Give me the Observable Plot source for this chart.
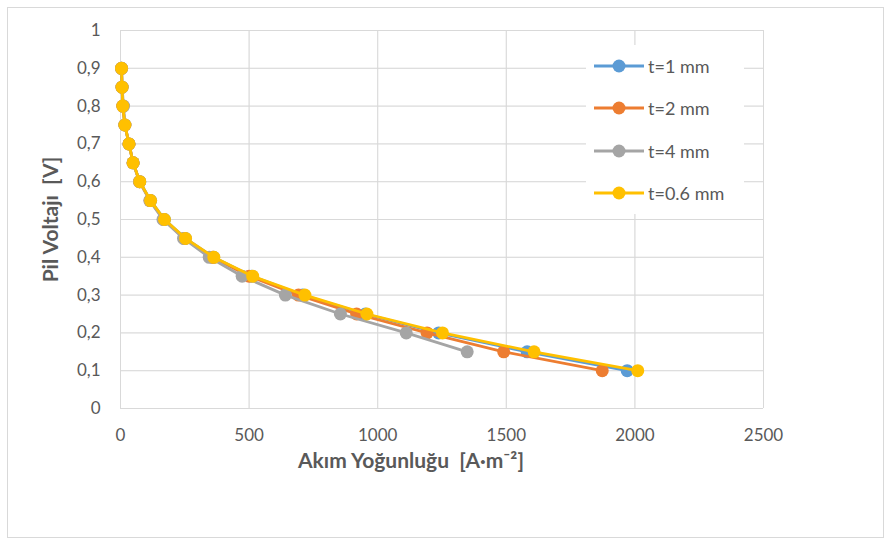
<!DOCTYPE html>
<html>
<head>
<meta charset="utf-8">
<script src="https://cdn.jsdelivr.net/npm/d3@7"></script>
<script src="https://cdn.jsdelivr.net/npm/@observablehq/plot@0.6"></script>
<style>
  html, body { margin: 0; padding: 0; background: #fff; }
  #wrap { position: relative; width: 890px; height: 540px; font-family: Lato, "Open Sans", sans-serif; }
  #border { position: absolute; left: 7px; top: 7px; width: 875px; height: 529px; border: 1px solid #d9d9d9; pointer-events: none; }
  #legend { position: absolute; left: 586px; top: 45px; width: 158px; background: #fff; padding: 0; }
  .li { display: flex; align-items: center; height: 42.3px; font-size: 18px; color: #595959; }
  .li svg { margin-left: 8px; margin-right: 4px; }
  svg [aria-label="x-axis label"] text, svg [aria-label="y-axis label"] text { font-weight: bold; font-size: 21px; white-space: pre; }
</style>
</head>
<body>
<div id="wrap"><div id="border"></div><div id="legend"></div></div>
<script>
const voltage = [0.9, 0.85, 0.8, 0.75, 0.7, 0.65, 0.6, 0.55, 0.5, 0.45, 0.4, 0.35, 0.3, 0.25, 0.2, 0.15, 0.1];
const seriesNames = ["t=1 mm", "t=2 mm", "t=4 mm", "t=0.6 mm"];
const seriesColors = ["#5B9BD5", "#ED7D31", "#A5A5A5", "#FFC000"];
const current_t1 = [4, 6, 9, 17, 33, 49, 75, 117, 171, 252, 362, 510, 708, 952, 1237, 1581, 1970];
const current_t2 = [4, 6, 9, 17, 33, 49, 74, 115, 168, 248, 358, 500, 692, 918, 1192, 1490, 1873];
const current_t4 = [4, 6, 12, 17, 33, 49, 74, 114, 165, 245, 345, 473, 641, 855, 1111, 1348];
const current_t06 = [4, 6, 9, 17, 33, 49, 75, 117, 171, 253, 363, 514, 717, 958, 1252, 1608, 2011];
const xTicks = [0, 500, 1000, 1500, 2000, 2500];
const yTicks = [0, 0.1, 0.2, 0.3, 0.4, 0.5, 0.6, 0.7, 0.8, 0.9, 1];
const xTitle = "Akım Yoğunluğu  [A·m⁻²]";
const yTitle = "Pil Voltajı  [V]";

const currents = [current_t1, current_t2, current_t4, current_t06];
const series = currents.map((arr, i) => arr.map((c, j) => ({I: c, V: voltage[j], s: seriesNames[i]})));

const marks = [];
series.forEach((data, i) => {
  marks.push(Plot.line(data, {x: "I", y: "V", stroke: seriesColors[i], strokeWidth: 2.8}));
  marks.push(Plot.dot(data, {x: "I", y: "V", fill: seriesColors[i], r: 6.5}));
});

const chart = Plot.plot({
  width: 890,
  height: 540,
  marginLeft: 120,
  marginRight: 127,
  marginTop: 30,
  marginBottom: 132,
  style: {fontFamily: "Lato, 'Open Sans', sans-serif", fontSize: "17px", color: "#595959", background: "transparent"},
  x: {domain: [0, 2500], ticks: xTicks, tickSize: 0, tickPadding: 20, grid: true,
      tickFormat: d => String(d),
      label: xTitle, labelAnchor: "center", labelOffset: 59, labelArrow: "none"},
  y: {domain: [0, 1], ticks: yTicks, tickSize: 0, tickPadding: 20, grid: true,
      tickFormat: d => String(d).replace(".", ","),
      label: yTitle, labelAnchor: "center", labelOffset: 77, labelArrow: "none"},
  marks: [
    Plot.gridX(xTicks, {stroke: "#d9d9d9", strokeOpacity: 1}),
    Plot.gridY(yTicks, {stroke: "#d9d9d9", strokeOpacity: 1}),
    ...marks
  ]
});
const xl = chart.querySelector('g[aria-label="x-axis label"]');
if (xl) {
  const t = xl.getAttribute("transform") || "";
  xl.setAttribute("transform", (t + " translate(-31,0)").trim());
}
document.getElementById("wrap").prepend(chart);

const legend = document.getElementById("legend");
seriesNames.forEach((name, i) => {
  const row = document.createElement("div");
  row.className = "li";
  row.innerHTML = `<svg width="50" height="16"><line x1="0" x2="50" y1="8" y2="8" stroke="${seriesColors[i]}" stroke-width="2.8"/><circle cx="25" cy="8" r="6.5" fill="${seriesColors[i]}"/></svg><span>${name}</span>`;
  legend.appendChild(row);
});
</script>
</body>
</html>
